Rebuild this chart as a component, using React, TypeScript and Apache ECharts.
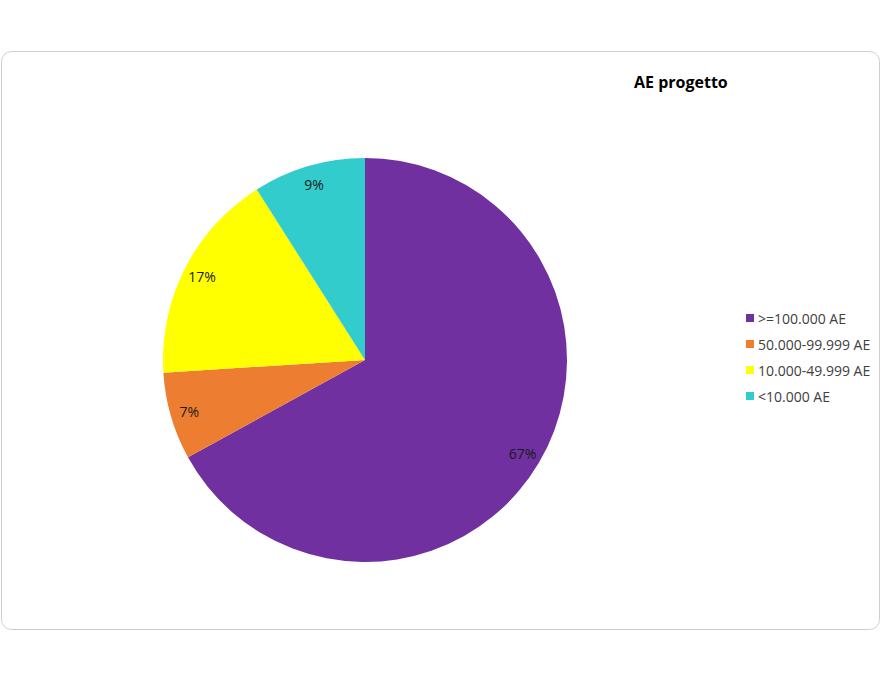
import { useEffect, useRef } from "react";
import * as echarts from "echarts";

const categories = [">=100.000 AE", "50.000-99.999 AE", "10.000-49.999 AE", "<10.000 AE"];
const shares = [67, 7, 17, 9];
const colors = ["#7030A0", "#ED7D31", "#FFFF00", "#33CCCC"];

export default function App() {
  const chartRef = useRef<HTMLDivElement>(null);

  useEffect(() => {
    document.body.style.margin = "0";
    if (!chartRef.current) return;
    const chart = echarts.init(chartRef.current, undefined, { renderer: "svg" });

    const data = categories.map((name, i) => ({
      name,
      value: shares[i],
      itemStyle: { color: colors[i] },
    }));

    chart.setOption({
      animation: false,
      backgroundColor: "#ffffff",
      textStyle: { fontFamily: "Open Sans" },
      graphic: [
        {
          type: "rect",
          shape: { x: 1.5, y: 51.5, width: 878, height: 578, r: 10 },
          style: { fill: "none", stroke: "#cfcfcf", lineWidth: 1 },
          silent: true,
          z: -1,
        },
      ],
      title: {
        text: "AE progetto",
        left: 629,
        top: 69,
        textStyle: { fontSize: 16, fontWeight: "bold", color: "#000000", fontFamily: "Open Sans" },
      },
      legend: {
        orient: "vertical",
        left: 741,
        top: 306,
        itemWidth: 8,
        itemHeight: 8,
        itemGap: 12,
        icon: "rect",
        textStyle: { fontSize: 14, color: "#404040", padding: [0, 0, 0, -1] },
        data: categories,
      },
      series: [
        {
          name: "AE progetto",
          type: "pie",
          center: [365, 360],
          radius: [0, 202],
          startAngle: 90,
          clockwise: true,
          label: { show: false },
          labelLine: { show: false },
          data,
        },
        {
          name: "labels",
          type: "pie",
          center: [365, 360],
          radius: [158, 202],
          startAngle: 90,
          clockwise: true,
          silent: true,
          itemStyle: { color: "rgba(0,0,0,0)" },
          label: {
            show: true,
            position: "inside",
            formatter: "{d}%",
            fontSize: 14,
            color: "#1a1a1a",
          },
          labelLine: { show: false },
          data: categories.map((name, i) => ({ name, value: shares[i] })),
        },
      ],
    });

    return () => chart.dispose();
  }, []);

  return <div ref={chartRef} style={{ width: 882, height: 682 }} />;
}
